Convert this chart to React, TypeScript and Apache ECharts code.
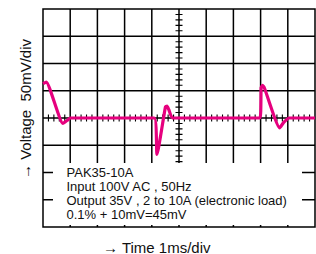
import React, { useEffect, useRef } from "react";
import * as echarts from "echarts";

// time in ms relative to screen centre, voltage deviation in mV
const timeMs = [-5, -4.88, -4.27, -4.1, -4.0, -0.91, -0.81, -0.5, -0.44, -0.38, -0.24, 2.98, 3.02, 3.07, 3.14, 3.7, 3.85, 4.05, 5];
const voltMv = [63, 66, -10, -4, 0, 0, -67, 20, 22, 16, 0, 0, 56, 60, 55, -18, -8, 0, 0];

// graticule: major divisions, each split into 5 minor ticks on the centre axes
const xMajorTicks = [-5, -4, -3, -2, -1, 0, 1, 2, 3, 4, 5];
const yMajorTicks = [-200, -150, -100, -50, 0, 50, 100, 150, 200];
const minorPerDiv = 5;

const infoLines = [
  "PAK35-10A",
  "Input 100V AC , 50Hz",
  "Output 35V , 2 to 10A (electronic load)",
  "0.1% + 10mV=45mV",
];
const xName = "→ Time 1ms/div";
const yName = "→ Voltage  50mV/div";

const FONT = "'Liberation Sans', Arial, Helvetica, sans-serif";
const LINE = "#000000";
const GRID = { left: 43, top: 9, right: 1, bottom: 27 };
const PW = 316 - GRID.left - GRID.right;
const PH = 254 - GRID.top - GRID.bottom;

function subdivide(major: number[]) {
  const out: number[] = [];
  for (let i = 0; i < major.length - 1; i++) {
    const step = (major[i + 1] - major[i]) / minorPerDiv;
    for (let k = 1; k < minorPerDiv; k++) out.push(major[i] + k * step);
  }
  return out;
}

export default function App() {
  const ref = useRef<HTMLDivElement>(null);
  useEffect(() => {
    if (!ref.current) return;
    const chart = echarts.init(ref.current, undefined, { renderer: "svg" });
    const xMin = xMajorTicks[0];
    const xMax = xMajorTicks[xMajorTicks.length - 1];
    const yMin = yMajorTicks[0];
    const yMax = yMajorTicks[yMajorTicks.length - 1];
    const tickPx = 3.5;
    const halfTickY = (tickPx * (yMax - yMin)) / PH;
    const halfTickX = (tickPx * (xMax - xMin)) / PW;

    const segment = (pts: number[][], width: number) => ({
      type: "line",
      data: pts,
      showSymbol: false,
      symbol: "none",
      silent: true,
      animation: false,
      z: 2,
      lineStyle: { color: LINE, width, type: "solid" },
      emphasis: { disabled: true },
    });

    const gridSeries = [
      ...xMajorTicks.slice(1, -1).map((v) => segment([[v, yMin], [v, yMax]], 1.5)),
      ...yMajorTicks.slice(1, -1).map((v) => segment([[xMin, v], [xMax, v]], 1.5)),
    ];
    const tickSeries = [
      ...subdivide(xMajorTicks).map((v) => segment([[v, -halfTickY], [v, halfTickY]], 1.1)),
      ...subdivide(yMajorTicks).map((v) => segment([[-halfTickX, v], [halfTickX, v]], 1.1)),
    ];

    const hiddenAxis = (min: number, max: number) => ({
      type: "value",
      min,
      max,
      show: false,
      splitLine: { show: false },
    });

    chart.setOption({
      animation: false,
      backgroundColor: "#fff",
      grid: {
        ...GRID,
        show: true,
        borderColor: LINE,
        borderWidth: 1.5,
      },
      xAxis: hiddenAxis(xMin, xMax),
      yAxis: hiddenAxis(yMin, yMax),
      series: [
        ...gridSeries,
        ...tickSeries,
        {
          type: "line",
          name: "ripple",
          data: timeMs.map((t, i) => [t, voltMv[i]]),
          showSymbol: false,
          smooth: 0.15,
          lineStyle: { color: "#e6007e", width: 3.2 },
          z: 5,
        },
      ],
      graphic: [
        {
          type: "rect",
          shape: { x: 53, y: 163, width: 249, height: 62 },
          style: { fill: "#fff" },
          z: 50,
        },
        {
          type: "text",
          x: 66.5,
          y: 165,
          z: 60,
          style: {
            text: infoLines.join("\n"),
            fontFamily: FONT,
            fontSize: 13,
            lineHeight: 14,
            fill: "#111",
            textAlign: "left",
            textVerticalAlign: "top",
          },
        },
        {
          type: "text",
          x: 103,
          y: 247,
          z: 60,
          style: {
            text: xName,
            fontFamily: FONT,
            fontSize: 15,
            fill: "#111",
            textAlign: "left",
            textVerticalAlign: "middle",
          },
        },
        {
          type: "text",
          x: 25,
          y: 109,
          rotation: Math.PI / 2,
          z: 60,
          style: {
            text: yName,
            fontFamily: FONT,
            fontSize: 15,
            fill: "#111",
            textAlign: "center",
            textVerticalAlign: "middle",
          },
        },
      ],
    });
    return () => chart.dispose();
  }, []);
  return <div ref={ref} style={{ width: 316, height: 254, position: "absolute", left: 0, top: 0 }} />;
}
